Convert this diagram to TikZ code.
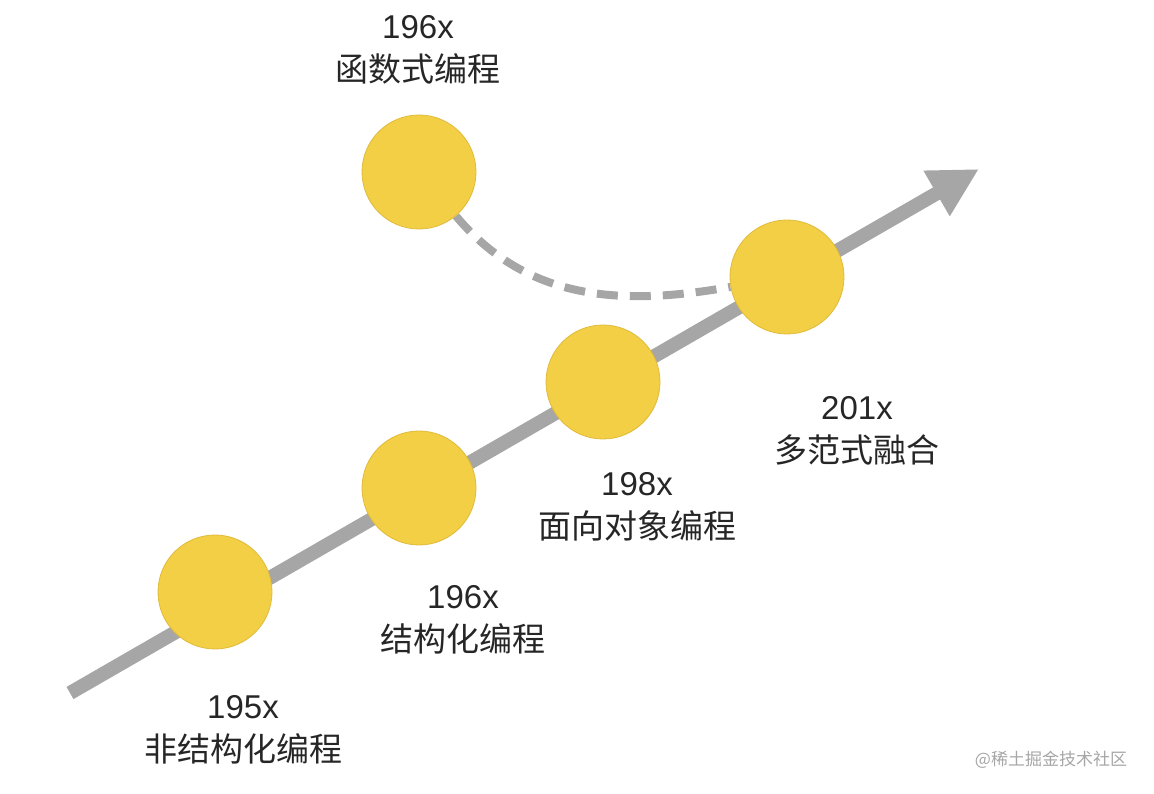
\documentclass[tikz,border=0pt]{standalone}
\usepackage{fontspec}
\setmainfont{Liberation Sans}
\newfontfamily\cjk{Noto Sans CJK SC}
\usepackage{xcolor}
\usetikzlibrary{arrows.meta,positioning,backgrounds}
\definecolor{dotyellow}{HTML}{F3CF46}
\definecolor{dotedge}{HTML}{E0BA3A}
\definecolor{trackgray}{HTML}{A6A6A6}

\begin{document}
\begin{tikzpicture}[
  x=1pt, y=1pt,
  every node/.style={font=\fontsize{33}{43}\selectfont},
  dot/.style={circle, fill=dotyellow, draw=dotedge, line width=0.8pt,
    minimum size=114pt, inner sep=0pt},
  era/.style={align=center, text=black!85, inner sep=0pt},
  track/.style={draw=trackgray, line width=14pt,
    -{Triangle[length=49pt, width=49pt]}},
  merge/.style={draw=trackgray, line width=8pt, dash pattern=on 21pt off 12pt}
]
\useasboundingbox (0,0) rectangle (1154,793);

% timeline
\coordinate (start) at (70,100);
\coordinate (tip) at (979,624);
\draw[track] (start) -- (tip);

\node[dot] (c1) at (215,201) {};
\node[dot] (c2) at (419,305) {};
\node[dot] (c3) at (603,411) {};
\node[dot] (c4) at (787,516) {};
\node[dot] (c5) at (419,621) {};

% functional programming joins later
\begin{scope}[on background layer]
\draw[merge] (c5) to[out=-50, in=190] (c4);
\end{scope}

\node[era] (l1) at (243,63) {195x\\{\cjk 非结构化编程}};
\node[era] (l2) at (463,173) {196x\\{\cjk 结构化编程}};
\node[era] (l3) at (637,286) {198x\\{\cjk 面向对象编程}};
\node[era] (l4) at (857,362) {201x\\{\cjk 多范式融合}};
\node[era] (l5) at (418,743) {196x\\{\cjk 函数式编程}};

\node[font=\cjk\fontsize{17}{20}\selectfont, text=black!35] (mark) at (1051,33) {@稀土掘金技术社区};
\end{tikzpicture}
\end{document}
